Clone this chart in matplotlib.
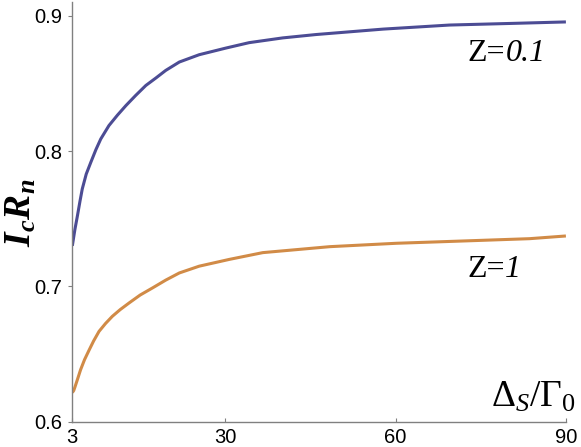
import matplotlib
matplotlib.use("Agg")
import matplotlib.pyplot as plt

plt.rcParams['mathtext.fontset'] = 'custom'
plt.rcParams['mathtext.rm'] = 'Liberation Serif'
plt.rcParams['mathtext.it'] = 'Liberation Serif:italic'
plt.rcParams['mathtext.bf'] = 'Liberation Serif:italic:bold'

# values
delta_z01 = [3.05, 3.5, 3.94, 4.4, 4.8, 5.5, 6.3, 7.2, 8.06, 9.5, 11.0,
             12.5, 14.2, 16.0, 17.8, 19.5, 21.9, 25.4, 30.1, 34.2, 40.1,
             46.0, 57.8, 69.5, 81.3, 90.0]
icrn_z01 = [0.730, 0.742, 0.752, 0.763, 0.772, 0.783, 0.7916, 0.801, 0.8089,
            0.8188, 0.8265, 0.8336, 0.841, 0.8484, 0.854, 0.8595, 0.8657,
            0.8711, 0.876, 0.880, 0.8835, 0.886, 0.890, 0.893, 0.8943, 0.8953]

delta_z1 = [3.05, 3.3, 3.53, 4.0, 4.5, 5.2, 6.0, 6.8, 7.76, 8.9, 10.1, 11.5,
            13.1, 15.0, 17.2, 19.5, 21.9, 25.4, 30.7, 36.6, 48.4, 60.1, 71.9,
            83.6, 90.0]
icrn_z1 = [0.6217, 0.6232, 0.626, 0.632, 0.6385, 0.646, 0.653, 0.6598,
           0.6669, 0.6727, 0.678, 0.683, 0.688, 0.6937, 0.699, 0.7047, 0.710,
           0.715, 0.720, 0.725, 0.7294, 0.7319, 0.7336, 0.7353, 0.7373]

xticks = [3, 30, 60, 90]
yticks = [0.6, 0.7, 0.8, 0.9]

fig = plt.figure(figsize=(5.81, 4.47), dpi=100)
ax = fig.add_axes([0.124, 0.056, 0.850, 0.9395])

ax.plot(delta_z01, icrn_z01, color='#4C4C94', lw=2.2,
        solid_capstyle='butt', solid_joinstyle='round')
ax.plot(delta_z1, icrn_z1, color='#D18B47', lw=2.2,
        solid_capstyle='butt', solid_joinstyle='round')

ax.set_xlim(3, 90)
ax.set_ylim(0.6, 0.910)
ax.set_xticks(xticks)
ax.set_xticklabels([str(t) for t in xticks])
ax.set_yticks(yticks)
ax.set_yticklabels(['%.1f' % t for t in yticks])

for s in ['top', 'right']:
    ax.spines[s].set_visible(False)
for s in ['left', 'bottom']:
    ax.spines[s].set_color('#808080')
    ax.spines[s].set_linewidth(1.0)

ax.tick_params(axis='y', direction='out', length=3, width=0.8, color='#808080',
               labelsize=14.5, pad=4)
ax.tick_params(axis='x', direction='in', length=3, width=0.8, color='#808080',
               labelsize=14.5, pad=4)
for lab in ax.get_xticklabels() + ax.get_yticklabels():
    lab.set_fontfamily('Liberation Sans')


def curve_label(x, y, value):
    # upright "Z=" followed by an italic value, as in the original
    t = ax.text(x, y, 'Z=', fontsize=23, family='Liberation Serif',
                ha='left', va='bottom')
    ax.annotate(value, xy=(1, 0), xycoords=t, fontsize=23,
                family='Liberation Serif', style='italic',
                ha='left', va='bottom')


curve_label(72.7, 0.8610, '0.1')
curve_label(72.7, 0.7017, '1')

fig.text(0.035, 0.525, r'$\mathbf{I_c R_n}$', fontsize=27, rotation=90,
         ha='center', va='center')
fig.text(0.845, 0.0895, r'$\Delta_{\mathit{S}}/\Gamma_0$', fontsize=27,
         ha='left', va='baseline')

fig.savefig('out.png', dpi=100)
